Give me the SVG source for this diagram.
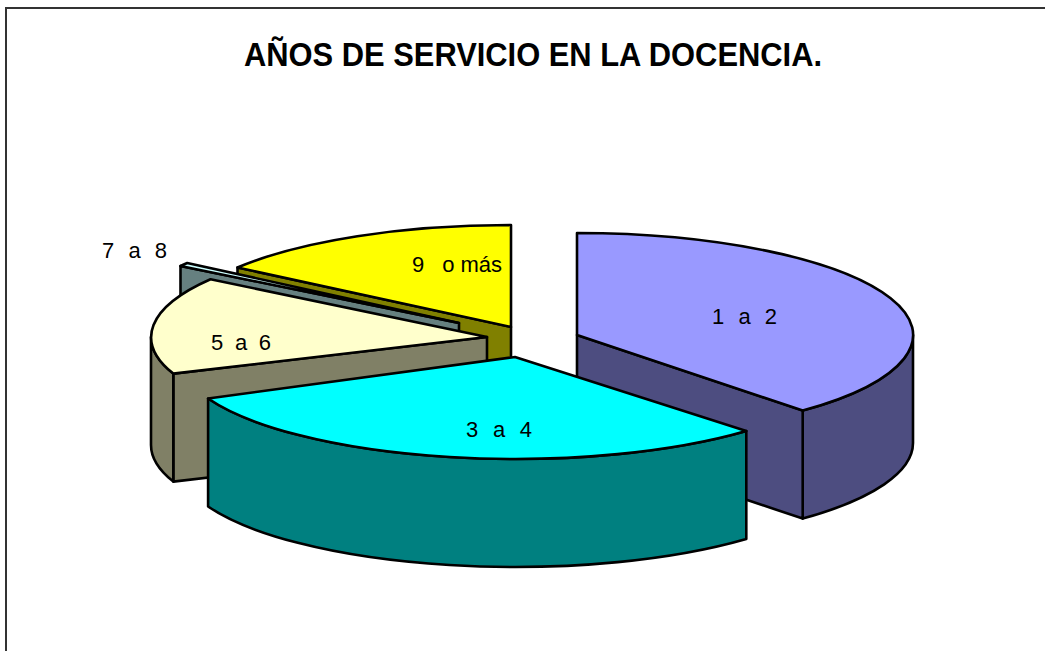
<svg xmlns="http://www.w3.org/2000/svg" width="1045" height="651" viewBox="0 0 1045 651">
<style>
.s{stroke:#000;stroke-width:2.6;stroke-linejoin:round}
.lbl{font-family:"Liberation Sans",Arial,sans-serif;font-size:22px;fill:#000;white-space:pre}
.title{font-family:"Liberation Sans",Arial,sans-serif;font-size:34px;font-weight:bold;fill:#000}
</style>
<rect x="0" y="0" width="1045" height="651" fill="#fff"/>
<rect id="frame" x="6" y="8" width="1100" height="700" fill="none" stroke="#333" stroke-width="2"/>
<text id="title" class="title" x="533" y="66" text-anchor="middle" textLength="578" lengthAdjust="spacingAndGlyphs">AÑOS DE SERVICIO EN LA DOCENCIA.</text>

<g id="slice-9-o-mas">
<path class="s" fill="#808000" d="M 511,327 L 237.5,267.5 L 237.5,375.5 L 511,435 Z"/>
<path class="s" fill="#FFFF00" d="M 511,327 L 237.5,267.5 A 336 102 0 0 1 511,225 Z"/>
</g>
<g id="slice-7-a-8">
<path class="s" fill="#668080" d="M 459,323 L 180.5,266 L 180.5,374 L 459,431 Z"/>
<path class="s" fill="#CCFFFF" d="M 459,323 L 180.5,266 A 336 102 0 0 1 187.2,263 Z"/>
</g>
<g id="slice-5-a-6">
<path class="s" fill="#808066" d="M 487,337 L 173.3,373.6 L 173.3,481.6 L 487,445 Z"/>
<path class="s" fill="#808066" d="M 151,337 A 336 102 0 0 0 173.3,373.6 L 173.3,481.6 A 336 102 0 0 1 151,445 Z"/>
<path class="s" fill="#FFFFCC" d="M 487,337 L 173.3,373.6 A 336 102 0 0 1 210.5,279.3 Z"/>
</g>
<g id="slice-1-a-2">
<path class="s" fill="#4D4D80" d="M 913,335 A 336 102 0 0 1 802.7,410.6 L 802.7,518.6 A 336 102 0 0 0 913,443 Z"/>
<path class="s" fill="#4D4D80" d="M 577,335 L 802.7,410.6 L 802.7,518.6 L 577,443 Z"/>
<path class="s" fill="#9999FF" d="M 577,335 L 577,233 A 336 102 0 0 1 802.7,410.6 Z"/>
</g>
<g id="slice-3-a-4">
<path class="s" fill="#008080" d="M 746.3,431 A 336 102 0 0 1 208.1,398.5 L 208.1,506.5 A 336 102 0 0 0 746.3,539 Z"/>
<path class="s" fill="#00FFFF" d="M 515,357 L 746.3,431 A 336 102 0 0 1 208.1,398.5 Z"/>
</g>

<g id="labels">
<text class="lbl" xml:space="preserve" x="712" y="324" textLength="65">1  a  2</text>
<text class="lbl" xml:space="preserve" x="466" y="437" textLength="66">3  a  4</text>
<text class="lbl" xml:space="preserve" x="211" y="350" textLength="60">5  a  6</text>
<text class="lbl" xml:space="preserve" x="102" y="258" textLength="65">7  a  8</text>
<text class="lbl" xml:space="preserve" x="412" y="272" textLength="90">9   o más</text>
</g>
</svg>
